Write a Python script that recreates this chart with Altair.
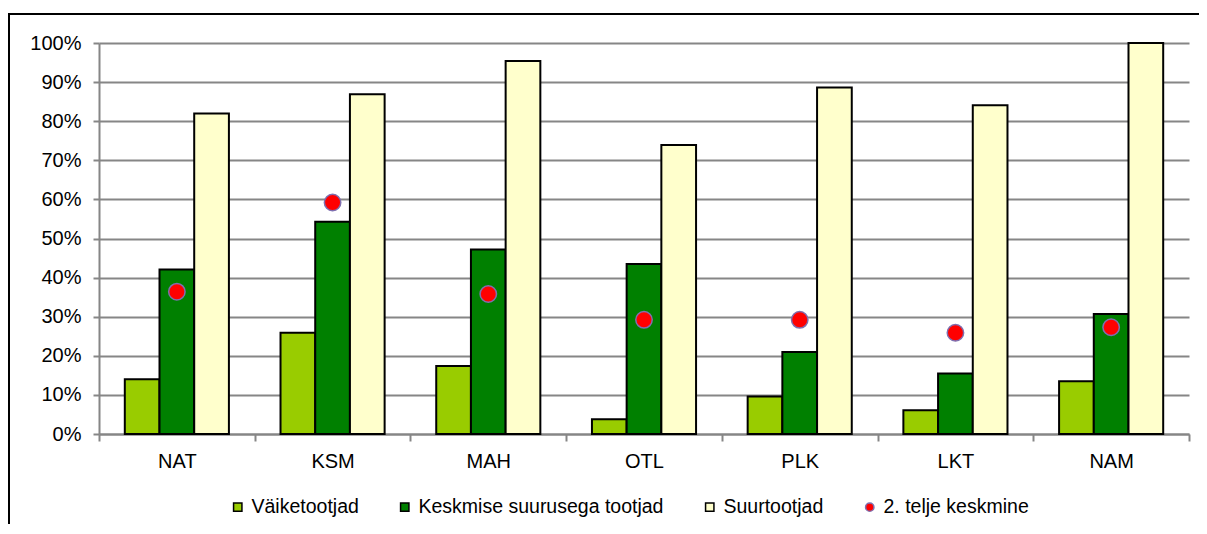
import altair as alt
import pandas as pd

# ---- data ----
categories = ["NAT", "KSM", "MAH", "OTL", "PLK", "LKT", "NAM"]
small = [14.0, 25.9, 17.4, 3.8, 9.6, 6.1, 13.5]          # Väiketootjad
medium = [42.1, 54.3, 47.2, 43.5, 21.0, 15.5, 30.7]      # Keskmise suurusega tootjad
large = [82.0, 86.9, 95.4, 73.9, 88.6, 84.1, 100.0]      # Suurtootjad
avg2 = [36.4, 59.2, 35.8, 29.2, 29.2, 25.9, 27.3]        # 2. telje keskmine

series_names = ["Väiketootjad", "Keskmise suurusega tootjad", "Suurtootjad", "2. telje keskmine"]
fill_colors = ["#99cc00", "#008000", "#ffffcc", "#ff0000"]
stroke_colors = ["#000000", "#000000", "#000000", "#7f6faf"]
shapes = ["square", "square", "square", "circle"]
y_ticks = list(range(0, 101, 10))

rows = []
for name, vals in zip(series_names[:3], [small, medium, large]):
    for c, v in zip(categories, vals):
        rows.append({"cat": c, "series": name, "value": v})
df_bars = pd.DataFrame(rows)
df_pts = pd.DataFrame({"cat": categories, "series": series_names[3], "value": avg2})

W, H = 1090, 391
GRID = "#868686"


def make_legend():
    return alt.Legend(
        title=None,
        orient="none",
        legendX=129,
        legendY=454,
        direction="horizontal",
        labelFontSize=19.5,
        labelColor="black",
        labelFont="Liberation Sans",
        labelOffset=4,
        labelLimit=0,
        columnPadding=36,
        padding=0,
        symbolSize=70,
        symbolStrokeWidth=1.5,
    )


def make_x():
    return alt.X(
        "cat:N",
        sort=categories,
        scale=alt.Scale(paddingInner=0, paddingOuter=0),
        axis=alt.Axis(
            title=None,
            tickBand="extent",
            grid=False,
            domainColor=GRID,
            domainWidth=2,
            tickColor=GRID,
            tickWidth=2,
            tickSize=7,
            labelFontSize=20,
            labelColor="black",
            labelFont="Liberation Sans",
            labelPadding=10,
            labelAngle=0,
        ),
    )


def make_y():
    return alt.Y(
        "value:Q",
        scale=alt.Scale(domain=[0, 100], nice=False),
        axis=alt.Axis(
            title=None,
            values=y_ticks,
            tickCount=11,
            labelExpr="datum.value + '%'",
            labelOverlap=False,
            grid=True,
            gridColor=GRID,
            gridWidth=2,
            domainColor=GRID,
            domainWidth=2,
            tickColor=GRID,
            tickWidth=2,
            tickSize=6,
            labelFontSize=20,
            labelColor="black",
            labelFont="Liberation Sans",
            labelPadding=12,
        ),
    )


frame = alt.Chart(alt.Data(values=[{}])).mark_rect(
    filled=False, stroke="black", strokeWidth=2
).encode(
    x=alt.value(-90), x2=alt.value(1115), y=alt.value(-29), y2=alt.value(520)
)

bars = alt.Chart(df_bars).mark_bar(stroke="black", strokeWidth=2).encode(
    x=make_x(),
    xOffset=alt.XOffset(
        "series:N",
        sort=series_names[:3],
        scale=alt.Scale(paddingInner=0, paddingOuter=0.7435),
    ),
    y=make_y(),
    fill=alt.Fill(
        "series:N",
        scale=alt.Scale(domain=series_names, range=fill_colors),
        legend=make_legend(),
    ),
)

points = alt.Chart(df_pts).mark_point(
    filled=True, size=270, strokeWidth=1.5, opacity=1
).encode(
    x=make_x(),
    y=make_y(),
    fill=alt.Fill("series:N", legend=make_legend()),
    shape=alt.Shape(
        "series:N",
        scale=alt.Scale(domain=series_names, range=shapes),
        legend=make_legend(),
    ),
    stroke=alt.Stroke(
        "series:N",
        scale=alt.Scale(domain=series_names, range=stroke_colors),
        legend=make_legend(),
    ),
)

chart = (
    alt.layer(frame, bars, points)
    .properties(
        width=W,
        height=H,
        padding={"left": 91, "top": 35, "right": 10, "bottom": 90},
        autosize=alt.AutoSizeParams(type="none"),
        background="white",
    )
    .configure(font="Liberation Sans")
    .configure_view(stroke=None)
)

chart.save("out.html", embed_options={"renderer": "svg", "actions": False})
